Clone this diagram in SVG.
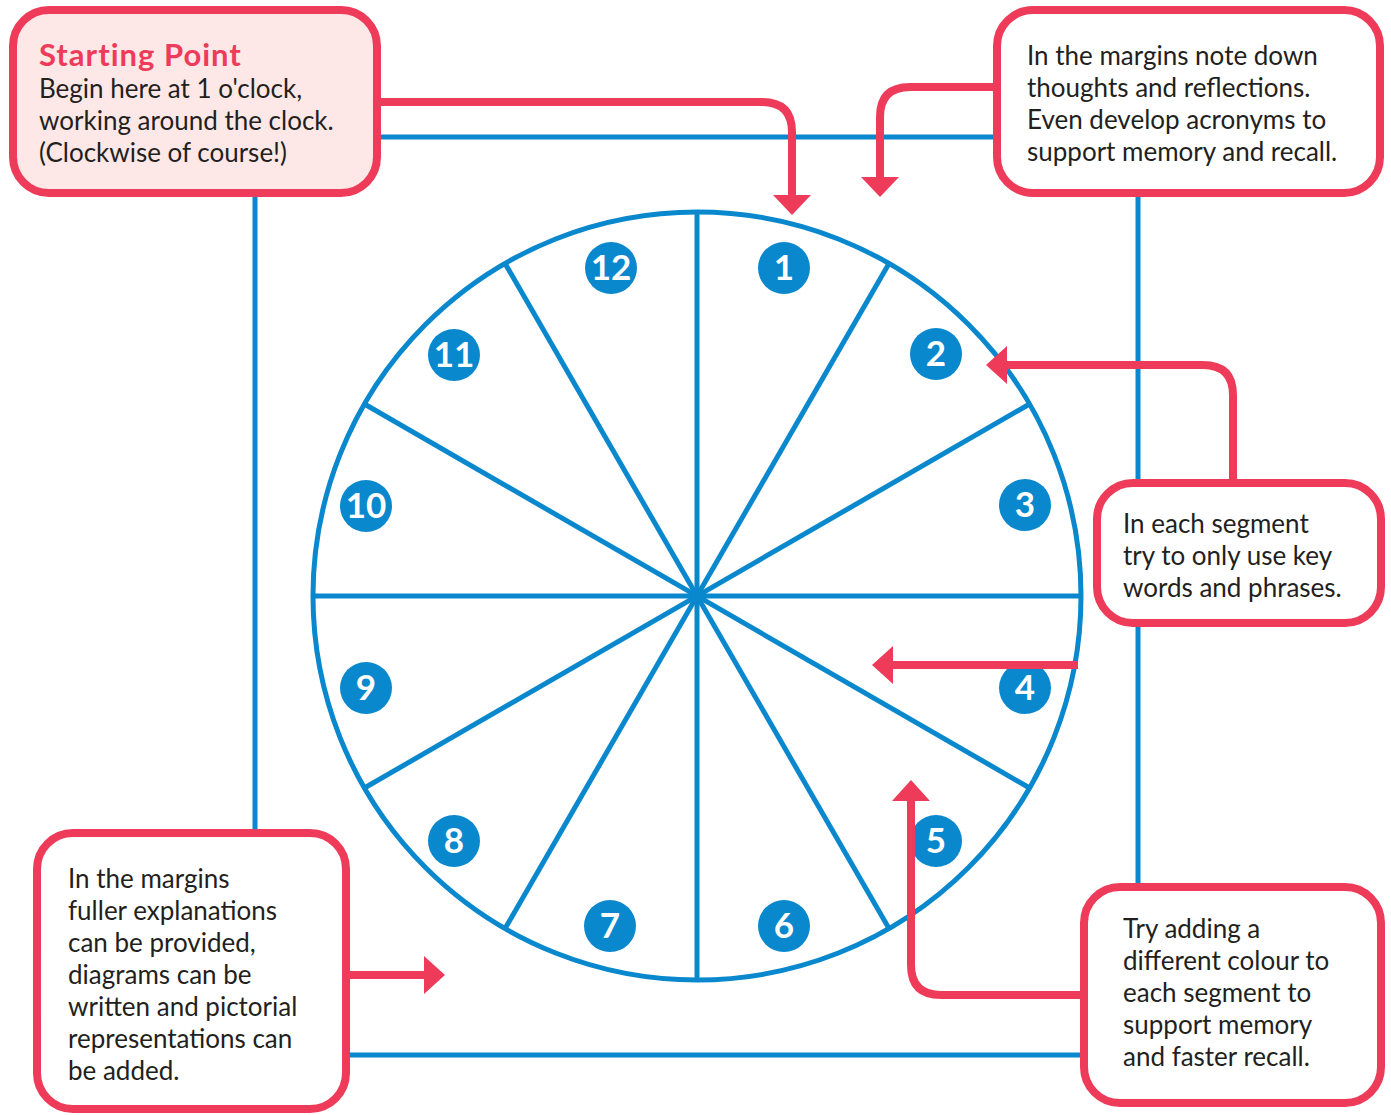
<svg xmlns="http://www.w3.org/2000/svg" width="1391" height="1115" viewBox="0 0 1391 1115">
<style>
.blue{stroke:#0a88cd;stroke-width:5;fill:none}
.pink{stroke:#ee3b5a;stroke-width:8;fill:none}
.head{fill:#ee3b5a;stroke:none}
.box{stroke:#ee3b5a;stroke-width:8;fill:#ffffff}
.start{fill:#fde8e7}
.t{font-family:Lato,"Noto Sans",sans-serif;font-size:26px;fill:#231f20}
.title{font-family:Lato,"Noto Sans",sans-serif;font-size:31px;font-weight:bold;letter-spacing:1px;fill:#ee3b5a}
.num circle{fill:#0a88cd}
.num text{font-family:Lato,"Noto Sans",sans-serif;font-size:35px;font-weight:bold;fill:#ffffff;text-anchor:middle}
</style>
<rect width="1391" height="1115" fill="#ffffff"/>
<g id="frame">
<rect class="blue" x="255" y="137" width="883" height="918"/>
</g>
<g id="clock">
<circle class="blue" cx="697" cy="596" r="384"/>
<g class="blue">
<line x1="697" y1="212" x2="697" y2="980"/>
<line x1="313" y1="596" x2="1081" y2="596"/>
<line x1="889" y1="263.4" x2="505" y2="928.6"/>
<line x1="1029.6" y1="404" x2="364.4" y2="788"/>
<line x1="1029.6" y1="788" x2="364.4" y2="404"/>
<line x1="889" y1="928.6" x2="505" y2="263.4"/>
</g>
</g>
<g id="numbers" class="num">
<g id="n1"><circle cx="784" cy="268" r="26"/><text x="784" y="280">1</text></g>
<g id="n2"><circle cx="936" cy="354" r="26"/><text x="936" y="366">2</text></g>
<g id="n3"><circle cx="1025" cy="505" r="26"/><text x="1025" y="517">3</text></g>
<g id="n4"><circle cx="1025" cy="688" r="26"/><text x="1025" y="700">4</text></g>
<g id="n5"><circle cx="936" cy="841" r="26"/><text x="936" y="853">5</text></g>
<g id="n6"><circle cx="784" cy="926" r="26"/><text x="784" y="938">6</text></g>
<g id="n7"><circle cx="610" cy="926" r="26"/><text x="610" y="938">7</text></g>
<g id="n8"><circle cx="454" cy="841" r="26"/><text x="454" y="853">8</text></g>
<g id="n9"><circle cx="366" cy="688" r="26"/><text x="366" y="700">9</text></g>
<g id="n10"><circle cx="366" cy="506" r="26"/><text x="366" y="518">10</text></g>
<g id="n11"><circle cx="454" cy="355" r="26"/><text x="454" y="367">11</text></g>
<g id="n12"><circle cx="611" cy="268" r="26"/><text x="611" y="280">12</text></g>
</g>
<g id="connectors">
<path class="pink" d="M377 102 H762 Q792 102 792 132 V197"/>
<polygon class="head" points="773,195 811,195 792,215"/>
<path class="pink" d="M997 87 H910 Q880 87 880 117 V180"/>
<polygon class="head" points="861,177 899,177 880,197"/>
<path class="pink" d="M1233 483 V395 Q1233 365 1203 365 H1005"/>
<polygon class="head" points="1007,346 1007,384 986,365"/>
<path class="pink" d="M1078 665 H890"/>
<polygon class="head" points="893,646 893,684 872,665"/>
<path class="pink" d="M1084 995 H941 Q911 995 911 965 V798"/>
<polygon class="head" points="892,801 930,801 911,780"/>
<path class="pink" d="M346 975 H427"/>
<polygon class="head" points="424,956 424,994 445,975"/>
</g>
<g id="box-start">
<rect class="box start" x="13" y="10" width="364" height="183" rx="36"/>
<text class="title" x="39" y="66">Starting Point</text>
<text class="t" x="39" y="98">Begin here at 1 o'clock,</text>
<text class="t" x="39" y="130">working around the clock.</text>
<text class="t" x="39" y="162">(Clockwise of course!)</text>
</g>
<g id="box-margins-top">
<rect class="box" x="997" y="10" width="383" height="183" rx="36"/>
<text class="t" x="1027" y="65">In the margins note down</text>
<text class="t" x="1027" y="97">thoughts and reflections.</text>
<text class="t" x="1027" y="129">Even develop acronyms to</text>
<text class="t" x="1027" y="161">support memory and recall.</text>
</g>
<g id="box-segment">
<rect class="box" x="1097" y="483" width="284" height="140" rx="36"/>
<text class="t" x="1123" y="533">In each segment</text>
<text class="t" x="1123" y="565">try to only use key</text>
<text class="t" x="1123" y="597">words and phrases.</text>
</g>
<g id="box-colour">
<rect class="box" x="1084" y="887" width="297" height="216" rx="36"/>
<text class="t" x="1123" y="938">Try adding a</text>
<text class="t" x="1123" y="970">different colour to</text>
<text class="t" x="1123" y="1002">each segment to</text>
<text class="t" x="1123" y="1034">support memory</text>
<text class="t" x="1123" y="1066">and faster recall.</text>
</g>
<g id="box-margins-bottom">
<rect class="box" x="37" y="833" width="309" height="276" rx="36"/>
<text class="t" x="68" y="888">In the margins</text>
<text class="t" x="68" y="920">fuller explanations</text>
<text class="t" x="68" y="952">can be provided,</text>
<text class="t" x="68" y="984">diagrams can be</text>
<text class="t" x="68" y="1016">written and pictorial</text>
<text class="t" x="68" y="1048">representations can</text>
<text class="t" x="68" y="1080">be added.</text>
</g>
</svg>
